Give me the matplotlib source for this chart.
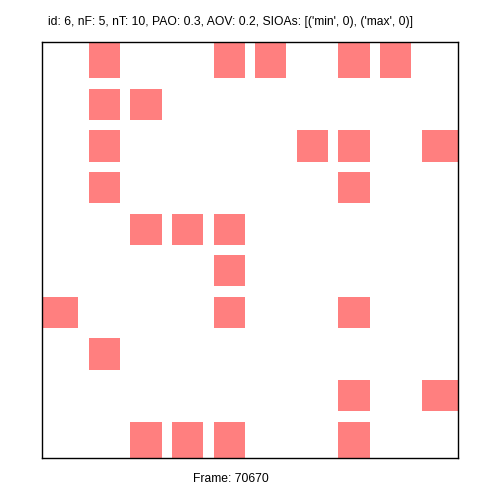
import matplotlib
matplotlib.use('Agg')
import matplotlib.pyplot as plt
from matplotlib.patches import Rectangle

plt.rcParams['font.family'] = ['Liberation Sans', 'DejaVu Sans']

title = "id: 6, nF: 5, nT: 10, PAO: 0.3, AOV: 0.2, SIOAs: [('min', 0), ('max', 0)]"
frame_label = "Frame: 70670"
n_rows = 10
n_cols = 10
# active cells as (row from top, column)
rows = [0, 0, 0, 0, 0, 1, 1, 2, 2, 2, 2, 3, 3, 4, 4, 4, 5, 6, 6, 6, 7, 8, 8, 9, 9, 9, 9]
cols = [1, 4, 5, 7, 8, 1, 2, 1, 6, 7, 9, 1, 7, 2, 3, 4, 4, 0, 4, 7, 1, 7, 9, 2, 3, 4, 7]

fig = plt.figure(figsize=(5, 5), dpi=100)
ax = fig.add_axes([0.084, 0.084, 0.832, 0.832])

half = 0.375
for r, c in zip(rows, cols):
    x0 = -0.5 if c == 0 else c - half
    x1 = n_cols - 0.5 if c == n_cols - 1 else c + half
    y0 = -0.5 if r == 0 else r - half
    y1 = n_rows - 0.5 if r == n_rows - 1 else r + half
    ax.add_patch(Rectangle((x0, y0), x1 - x0, y1 - y0, facecolor='red', alpha=0.5, edgecolor='none', linewidth=0))

ax.set_xlim(-0.5, n_cols - 0.5)
ax.set_ylim(n_rows - 0.5, -0.5)
ax.set_xticks([])
ax.set_yticks([])
for s in ax.spines.values():
    s.set_linewidth(1.0)

fig.text(48 / 500, 1 - 25 / 500, title, ha='left', va='baseline', fontsize=8.7)
fig.text(193 / 500, 1 - 482 / 500, frame_label, ha='left', va='baseline', fontsize=8.7)

fig.savefig('out.png', dpi=100)
